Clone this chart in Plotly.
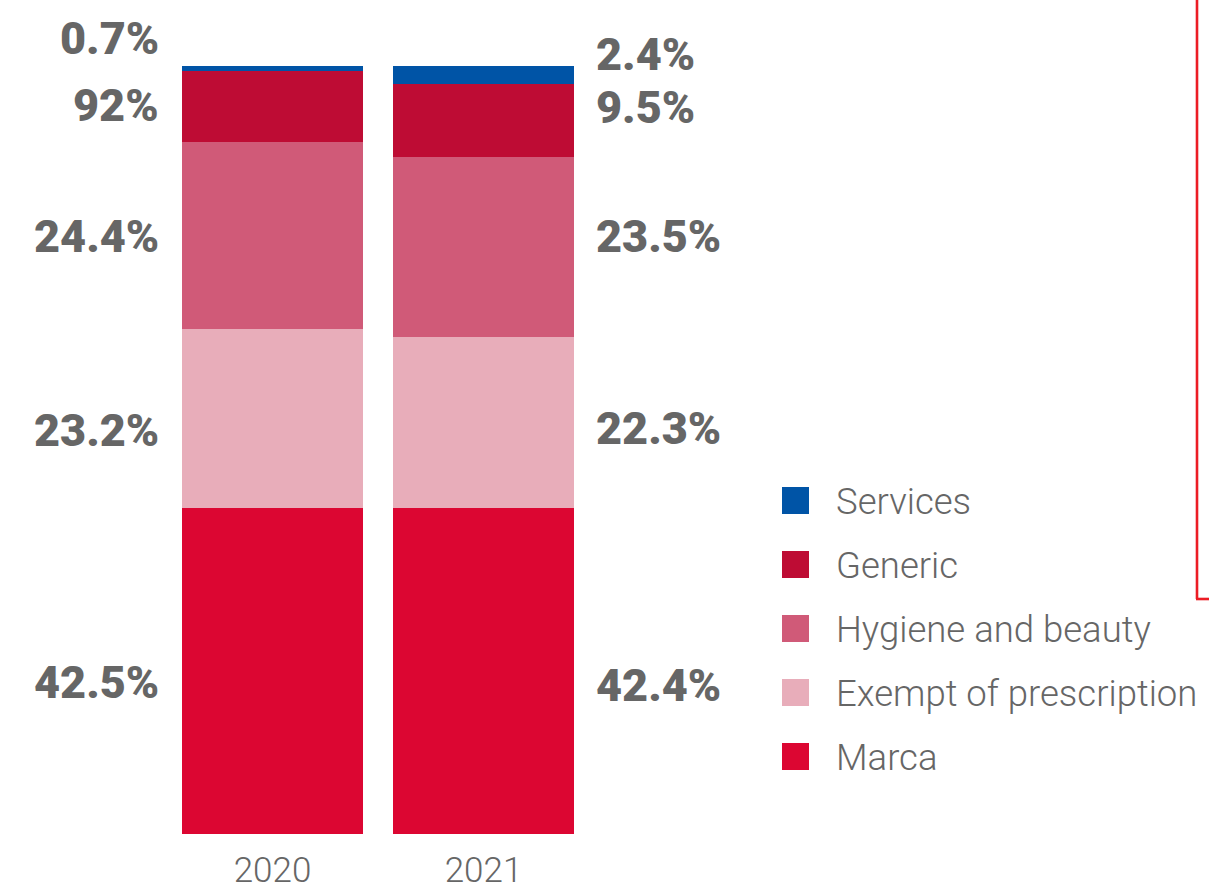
import plotly.graph_objects as go

# Sales mix by category (% of total)
years = ["2020", "2021"]
categories = ["Marca", "Exempt of prescription", "Hygiene and beauty", "Generic", "Services"]
share_2020 = [42.5, 23.2, 24.4, 9.2, 0.7]
share_2021 = [42.4, 22.3, 23.5, 9.5, 2.4]
labels_2020 = ["42.5%", "23.2%", "24.4%", "92%", "0.7%"]
labels_2021 = ["42.4%", "22.3%", "23.5%", "9.5%", "2.4%"]

colors = ["#dc0632", "#e8adba", "#d05a78", "#be0c34", "#0054a6"]
label_shift_2020 = [-12, -12, -1, 1, 30]
label_shift_2021 = [-14, -6, 10, 13, 20]

W, H = 1209, 892
PX_PER_UNIT = 211.0
x_lo = -272.5 / PX_PER_UNIT
x_hi = (W - 272.5) / PX_PER_UNIT
BAR_W = 181 / PX_PER_UNIT

GREY = "#666666"
FRAME_RED = "#ec1c24"


def px_x(px):
    return (px - 272.5) / PX_PER_UNIT


def px_y(py):
    return (834 - py) / 768 * 100


fig = go.Figure()
for i, cat in enumerate(categories):
    fig.add_trace(go.Bar(
        x=[0, 1],
        y=[share_2020[i], share_2021[i]],
        name=cat,
        marker=dict(color=colors[i], line=dict(width=0)),
        width=BAR_W,
        showlegend=False,
        hoverinfo="name+y",
    ))

annotations = []
shapes = []


def add_side_labels(values, texts, shifts, xpos, anchor):
    base = 0.0
    for v, t, s in zip(values, texts, shifts):
        mid = base + v / 2
        base += v
        annotations.append(dict(
            x=xpos, y=mid, xref="x", yref="y", text=t, showarrow=False,
            xanchor=anchor, yanchor="middle", yshift=s,
            font=dict(family="Roboto", size=45, color=GREY, weight=900),
        ))


add_side_labels(share_2020, labels_2020, label_shift_2020, px_x(161), "right")
add_side_labels(share_2021, labels_2021, label_shift_2021, px_x(594), "left")

# Custom legend (top-down: Services ... Marca)
legend_order = list(range(len(categories)))[::-1]
for k, i in enumerate(legend_order):
    top = 487 + 64 * k
    shapes.append(dict(
        type="rect", xref="x", yref="y",
        x0=px_x(782), x1=px_x(809),
        y0=px_y(top + 27), y1=px_y(top),
        fillcolor=colors[i], line=dict(width=0),
    ))
    annotations.append(dict(
        x=px_x(834), y=px_y(top + 14), xref="x", yref="y",
        text=categories[i], showarrow=False, xanchor="left", yanchor="middle",
        font=dict(family="Roboto", size=36.5, color=GREY, weight=300),
    ))

# Frame corner at the right (left and bottom edges)
fy = lambda py: (834 - py) / 768
fx = lambda px: px / W
shapes.append(dict(type="line", xref="paper", yref="paper",
                   x0=fx(1197), x1=fx(1197), y0=fy(-5), y1=fy(599),
                   line=dict(color=FRAME_RED, width=2.6)))
shapes.append(dict(type="line", xref="paper", yref="paper",
                   x0=fx(1196), x1=fx(1215), y0=fy(599), y1=fy(599),
                   line=dict(color=FRAME_RED, width=2.6)))

fig.update_layout(
    width=W, height=H,
    margin=dict(l=0, r=0, t=66, b=58),
    plot_bgcolor="white", paper_bgcolor="white",
    barmode="stack",
    xaxis=dict(range=[x_lo, x_hi], tickvals=[0, 1], ticktext=years,
               showgrid=False, zeroline=False, showline=False, ticks="",
               ticklabelstandoff=12,
               tickfont=dict(family="Roboto", size=35, color=GREY, weight=300)),
    yaxis=dict(range=[0, 100], visible=False, fixedrange=True),
    annotations=annotations,
    shapes=shapes,
)

fig.write_html("out.html")
